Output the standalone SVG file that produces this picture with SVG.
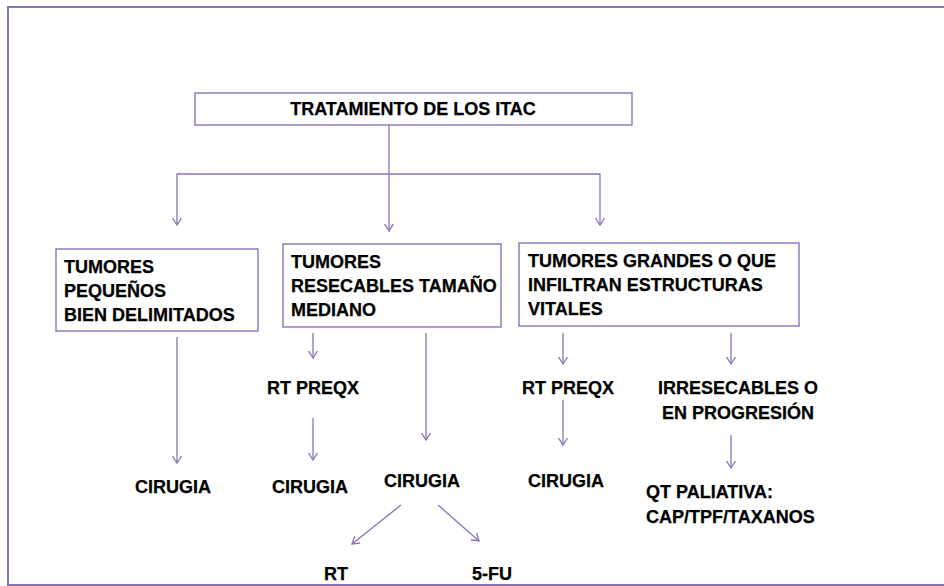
<svg xmlns="http://www.w3.org/2000/svg" width="944" height="586" viewBox="0 0 944 586">
<defs>
<marker id="arr" markerUnits="userSpaceOnUse" markerWidth="14" markerHeight="14" viewBox="-7 -7 14 14" refX="0" refY="0" orient="auto">
<path d="M-7,-4.5 L0,0 L-7,4.5" fill="none" stroke="#8a72b8" stroke-width="1.3"/>
</marker>
<style>
.box{fill:#fff;stroke:#8a72b8;stroke-width:1.4}
.ar{fill:none;stroke:#8a72b8;stroke-width:1.3;marker-end:url(#arr)}
text{font-family:"Liberation Sans",Arial,sans-serif;font-weight:bold;font-size:18px;fill:#000;stroke:#000;stroke-width:0.25}
</style>
</defs>
<rect x="8" y="7" width="950" height="578" fill="#fff" stroke="#8a72b8" stroke-width="2"/>
<g id="connectors">
<path class="ar" d="M389,125 V231"/>
<path class="ar" d="M389,174 H177 V225"/>
<path class="ar" d="M389,174 H600 V225"/>
<path class="ar" d="M177,337 V463"/>
<path class="ar" d="M313,333 V358"/>
<path class="ar" d="M313,418 V460"/>
<path class="ar" d="M426,333 V440"/>
<path class="ar" d="M401,505 L352,544"/>
<path class="ar" d="M438,505 L479,541"/>
<path class="ar" d="M563,333 V364"/>
<path class="ar" d="M563,400 V445"/>
<path class="ar" d="M731,333 V364"/>
<path class="ar" d="M731,435 V468"/>
</g>
<g id="n_title">
<rect class="box" x="195" y="93" width="437" height="32"/>
<text x="413" y="115" text-anchor="middle">TRATAMIENTO DE LOS ITAC</text>
</g>
<g id="n_small">
<rect class="box" x="56" y="249" width="202" height="82"/>
<text x="64" y="273">TUMORES</text>
<text x="64" y="297">PEQUEÑOS</text>
<text x="64" y="321">BIEN DELIMITADOS</text>
</g>
<g id="n_medium">
<rect class="box" x="283" y="244" width="218" height="83"/>
<text x="291" y="268">TUMORES</text>
<text x="291" y="292">RESECABLES TAMAÑO</text>
<text x="291" y="316">MEDIANO</text>
</g>
<g id="n_large">
<rect class="box" x="519" y="243" width="280" height="83"/>
<text x="528" y="267">TUMORES GRANDES O QUE</text>
<text x="528" y="291">INFILTRAN ESTRUCTURAS</text>
<text x="528" y="315">VITALES</text>
</g>
<g id="n_cir1"><text x="173" y="493" text-anchor="middle">CIRUGIA</text></g>
<g id="n_rtp1"><text x="313" y="394" text-anchor="middle">RT PREQX</text></g>
<g id="n_cir2"><text x="310" y="493" text-anchor="middle">CIRUGIA</text></g>
<g id="n_cir3"><text x="422" y="487" text-anchor="middle">CIRUGIA</text></g>
<g id="n_rt"><text x="336" y="580" text-anchor="middle">RT</text></g>
<g id="n_5fu"><text x="492" y="580" text-anchor="middle">5-FU</text></g>
<g id="n_rtp2"><text x="568" y="394" text-anchor="middle">RT PREQX</text></g>
<g id="n_cir4"><text x="566" y="487" text-anchor="middle">CIRUGIA</text></g>
<g id="n_irr">
<text x="738" y="394" text-anchor="middle">IRRESECABLES O</text>
<text x="738" y="419" text-anchor="middle">EN PROGRESIÓN</text>
</g>
<g id="n_qt">
<text x="646" y="498">QT PALIATIVA:</text>
<text x="646" y="523">CAP/TPF/TAXANOS</text>
</g>
</svg>
